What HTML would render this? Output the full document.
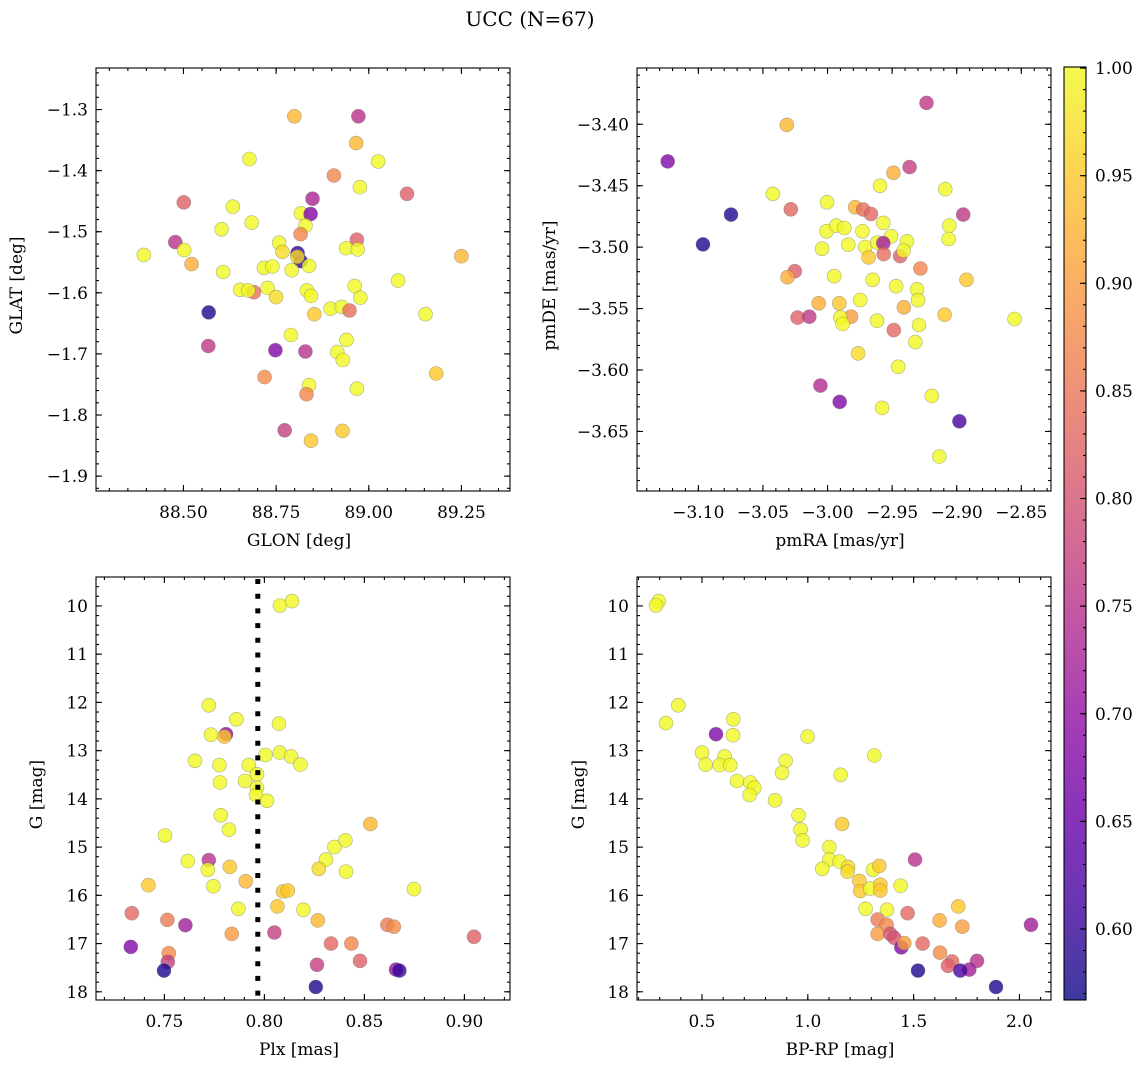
<!DOCTYPE html>
<html><head><meta charset="utf-8"><style>
html,body{margin:0;padding:0;background:#fff;}
svg text{font-family:"DejaVu Serif","Liberation Serif",serif;fill:#000;}
</style></head><body>
<svg id="fig" width="1148" height="1067" viewBox="0 0 1148 1067" xmlns="http://www.w3.org/2000/svg">
<text x="530" y="26" font-size="20" text-anchor="middle">UCC (N=67)</text>
</svg>
<script>
// Panel A: GLON vs GLAT
const glon=[88.799,88.972,88.966,88.678,89.025,88.906,88.976,89.103,88.501,88.848,88.633,88.817,88.843,88.684,88.829,88.603,88.816,88.478,88.758,88.968,88.939,88.970,88.502,88.767,88.808,88.816,88.807,88.393,89.250,88.522,88.717,88.740,88.792,88.839,88.607,89.079,88.962,88.653,88.690,88.675,88.727,88.833,88.844,88.750,88.977,88.897,88.927,88.948,88.853,88.568,89.153,88.790,88.940,88.567,88.748,88.829,88.915,88.930,89.182,88.719,88.839,88.832,88.968,88.773,88.844,88.929];
const glat=[-1.311,-1.311,-1.355,-1.381,-1.385,-1.408,-1.427,-1.438,-1.452,-1.446,-1.459,-1.470,-1.471,-1.485,-1.490,-1.496,-1.504,-1.517,-1.518,-1.513,-1.527,-1.529,-1.530,-1.533,-1.535,-1.548,-1.541,-1.538,-1.540,-1.553,-1.559,-1.557,-1.563,-1.556,-1.566,-1.580,-1.589,-1.595,-1.599,-1.596,-1.592,-1.596,-1.605,-1.607,-1.608,-1.626,-1.623,-1.629,-1.635,-1.632,-1.635,-1.669,-1.677,-1.687,-1.694,-1.696,-1.697,-1.710,-1.732,-1.738,-1.751,-1.766,-1.757,-1.825,-1.842,-1.826];
const probA=[0.93,0.75,0.93,1,1,0.87,1,0.82,0.82,0.73,1,1,0.68,1,1,1,0.87,0.75,1,0.82,1,1,1,0.97,0.6,0.6,0.97,1,0.93,0.92,1,1,1,1,1,1,1,1,0.84,1,1,1,1,0.97,1,1,1,0.84,0.95,0.58,1,1,1,0.76,0.68,0.75,1,1,0.95,0.88,1,0.87,1,0.77,0.95,0.95];
// Panel B: pmRA vs pmDE
const pmra=[-3.1237,-3.0315,-2.9234,-3.0747,-3.0964,-3.0424,-3.0284,-3.0003,-2.9786,-2.9724,-2.9664,-2.949,-2.9365,-2.9594,-2.9089,-2.895,-2.9057,-2.9063,-3.0008,-2.9932,-2.987,-2.9729,-2.9568,-2.9508,-3.0042,-2.9839,-2.9708,-2.9615,-2.9568,-2.9385,-2.9682,-2.9565,-2.9438,-2.9411,-2.9281,-3.0253,-3.031,-2.9948,-2.9651,-2.8924,-2.9469,-2.9307,-2.93,-2.9747,-3.0068,-2.9909,-2.9409,-2.9094,-2.8552,-3.0232,-3.0141,-2.9818,-2.9901,-2.9883,-2.9617,-2.9292,-2.9487,-2.932,-2.9763,-2.9453,-3.0055,-2.9906,-2.9578,-2.9193,-2.8979,-2.9135];
const pmde=[-3.4302,-3.4005,-3.3826,-3.4735,-3.4978,-3.4566,-3.4692,-3.4635,-3.4675,-3.4694,-3.473,-3.4395,-3.4349,-3.4501,-3.4528,-3.4735,-3.4825,-3.4934,-3.4871,-3.4825,-3.4844,-3.4871,-3.4803,-3.4912,-3.5013,-3.498,-3.4999,-3.4964,-3.4967,-3.4953,-3.5084,-3.5057,-3.5073,-3.5029,-3.5174,-3.5196,-3.5245,-3.5237,-3.5266,-3.5266,-3.5318,-3.5343,-3.5432,-3.543,-3.5457,-3.5457,-3.549,-3.555,-3.5585,-3.5574,-3.5566,-3.5566,-3.5571,-3.5626,-3.5599,-3.5634,-3.5675,-3.5773,-3.5865,-3.5974,-3.6127,-3.626,-3.6309,-3.6211,-3.6418,-3.6704];
const probB=[0.68,0.93,0.76,0.58,0.58,1,0.83,1,0.93,0.84,0.83,0.92,0.77,1,1,0.76,1,1,1,1,1,1,1,1,1,1,1,1,0.72,1,0.95,0.84,0.82,1,0.87,0.82,0.92,1,1,0.95,1,1,1,1,0.92,0.95,0.92,0.95,1,0.82,0.76,0.9,1,1,1,1,0.83,1,0.97,1,0.74,0.68,1,1,0.62,1];
// Panel C: Plx vs G
const plx=[0.8078,0.8138,0.7722,0.786,0.8073,0.7733,0.7808,0.78,0.8005,0.8077,0.8133,0.818,0.7653,0.7775,0.7922,0.7963,0.7903,0.7778,0.7963,0.7958,0.8013,0.7782,0.7823,0.7503,0.853,0.8405,0.835,0.8308,0.8272,0.8408,0.7617,0.7722,0.7717,0.7827,0.742,0.7745,0.7907,0.8093,0.8117,0.8748,0.787,0.8065,0.8195,0.7337,0.7515,0.7605,0.8267,0.7837,0.805,0.8615,0.8647,0.9048,0.7332,0.8333,0.8435,0.7522,0.7517,0.7498,0.8263,0.8478,0.8658,0.8675,0.8257];
const gmagC=[9.99,9.90,12.06,12.35,12.44,12.67,12.66,12.71,13.09,13.04,13.12,13.29,13.21,13.30,13.30,13.49,13.63,13.66,13.77,13.92,14.04,14.34,14.64,14.76,14.52,14.86,15.0,15.26,15.45,15.51,15.29,15.27,15.47,15.41,15.79,15.81,15.71,15.92,15.90,15.87,16.28,16.23,16.30,16.37,16.51,16.62,16.52,16.80,16.77,16.61,16.65,16.86,17.07,17.0,17.0,17.20,17.38,17.56,17.44,17.36,17.54,17.56,17.90];
const probC=[1,1,1,1,1,1,0.7,0.95,1,1,1,1,1,1,1,1,1,1,1,1,1,1,1,1,0.93,1,1,1,0.97,1,1,0.75,1,0.95,0.95,1,0.93,0.95,0.95,1,1,0.95,1,0.83,0.86,0.72,0.93,0.9,0.77,0.86,0.88,0.82,0.68,0.83,0.87,0.88,0.77,0.58,0.77,0.82,0.7,0.6,0.58];
// Panel D: BP-RP vs G
const bprp=[0.2953,0.2827,0.3882,0.3299,0.5661,0.648,0.6465,0.9992,1.3142,0.5,0.6071,0.5173,0.5835,0.6339,0.8953,0.878,1.1551,0.6654,0.7283,0.7472,0.7252,0.8449,0.9567,0.9661,0.9756,1.1614,1.1016,1.1016,1.0685,1.1504,1.1898,1.1882,1.3079,1.3378,1.2433,1.248,1.2953,1.3425,1.3425,1.4386,1.5063,1.2732,1.374,1.711,1.3299,1.4717,1.6228,1.7299,1.3724,1.3299,1.3898,1.4087,1.4417,1.4559,1.5425,1.6244,1.6811,1.6622,1.7992,1.763,1.7205,1.5205,1.889,2.0543];
const gmagD=[9.90,9.99,12.06,12.43,12.66,12.35,12.68,12.71,13.10,13.04,13.12,13.29,13.30,13.30,13.21,13.46,13.50,13.63,13.66,13.77,13.92,14.03,14.34,14.64,14.86,14.52,15.0,15.26,15.45,15.30,15.41,15.51,15.47,15.39,15.70,15.91,15.86,15.78,15.90,15.80,15.26,16.28,16.30,16.23,16.50,16.37,16.52,16.65,16.61,16.80,16.80,16.88,17.08,16.99,17.0,17.19,17.37,17.46,17.36,17.54,17.56,17.56,17.90,16.61];
const probD=[1,1,1,1,0.68,1,1,1,1,1,1,1,1,1,1,1,1,1,1,1,1,1,1,1,1,0.95,1,1,1,1,0.97,0.97,1,0.95,0.95,0.95,1,0.95,0.95,1,0.75,1,1,0.95,0.86,0.83,0.92,0.9,0.87,0.9,0.8,0.8,0.68,0.9,0.83,0.88,0.83,0.82,0.75,0.72,0.62,0.58,0.58,0.72];
const cbarTicks=[0.60,0.65,0.70,0.75,0.80,0.85,0.90,0.95,1.00];
const plxLine=[0.7967];

const NS="http://www.w3.org/2000/svg";
const svg=document.getElementById('fig');
function mk(tag,attrs,parent){const e=document.createElementNS(NS,tag);for(const k in attrs)e.setAttribute(k,attrs[k]);(parent||svg).appendChild(e);return e;}
const VMIN=0.567,VMAX=1.0005;
const plasma=[[13,8,135],[65,4,157],[106,0,168],[143,13,164],[177,42,144],[204,71,120],[225,100,98],[242,132,75],[252,166,54],[252,206,37],[240,249,33]];
function cmap(v){let t=(v-VMIN)/(VMAX-VMIN);t=Math.max(0,Math.min(1,t))*10;const i=Math.min(9,Math.floor(t)),f=t-i;const a=plasma[i],b=plasma[i+1];return 'rgb('+a.map((c,k)=>Math.round(c+(b[k]-c)*f)).join(',')+')';}
function fmt(v,d){const s=Math.abs(v).toFixed(d);return (v<-1e-9?'\u2212':'')+s;}
function ticks(lo,hi,step){const a=[],s=Math.ceil(Math.min(lo,hi)/step-1e-6);for(let k=s;k*step<=Math.max(lo,hi)+1e-9;k++)a.push(+(k*step).toFixed(6));return a;}

const panels=[
 {name:'glon-glat',x0:96,y0:68,w:414,h:423,xd:[88.264,89.381],yd:[-1.232,-1.9244],xs:[0.25,0.05],ys:[0.1,0.02],xf:2,yf:1,xl:'GLON [deg]',yl:'GLAT [deg]',X:glon,Y:glat,P:probA,ylx:16},
 {name:'pmra-pmde',x0:637,y0:68,w:414,h:423,xd:[-3.1475,-2.827],yd:[-3.3542,-3.6985],xs:[0.05,0.01],ys:[0.05,0.01],xf:2,yf:2,xl:'pmRA [mas/yr]',yl:'pmDE [mas/yr]',X:pmra,Y:pmde,P:probB,ylx:549},
 {name:'plx-g',x0:96,y0:577,w:414,h:423,xd:[0.7158,0.9228],yd:[9.4,18.17],xs:[0.05,0.01],ys:[1,0.2],xf:2,yf:0,xl:'Plx [mas]',yl:'G [mag]',X:plx,Y:gmagC,P:probC,ylx:36,vline:true},
 {name:'bprp-g',x0:637,y0:577,w:414,h:423,xd:[0.193,2.149],yd:[9.4,18.17],xs:[0.5,0.1],ys:[1,0.2],xf:1,yf:0,xl:'BP-RP [mag]',yl:'G [mag]',X:bprp,Y:gmagD,P:probD,ylx:578}
];
panels.forEach(p=>{
 const g=mk('g',{});
 
 
 const sx=v=>p.x0+(v-p.xd[0])/(p.xd[1]-p.xd[0])*p.w;
 const sy=v=>p.y0+(v-p.yd[0])/(p.yd[1]-p.yd[0])*p.h;
 const clip='clip-'+p.name;
 const cp=mk('clipPath',{id:clip},g);mk('rect',{x:p.x0,y:p.y0,width:p.w,height:p.h},cp);
 const pts=mk('g',{'clip-path':'url(#'+clip+')'},g);
 
 
 for(let i=0;i<p.X.length;i++){
  const c=mk('circle',{cx:sx(p.X[i]).toFixed(1),cy:sy(p.Y[i]).toFixed(1),r:7,fill:cmap(p.P[i]),'fill-opacity':0.8,stroke:'#666','stroke-opacity':0.5,'stroke-width':0.6},pts);
  
  
 }
 if(p.vline){
  const l=mk('line',{x1:sx(plxLine[0]),x2:sx(plxLine[0]),y1:p.y0+2,y2:p.y0+p.h,stroke:'#000','stroke-width':5,'stroke-dasharray':'5,9.7'},g);
  
  
 }
 const ax=mk('g',{stroke:'#000','stroke-width':1.1},g);
 
 
 [[p.xs[1],3],[p.xs[0],6]].forEach(([st,L])=>{ticks(p.xd[0],p.xd[1],st).forEach(v=>{const x=sx(v);if(x<p.x0+0.5||x>p.x0+p.w-0.5)return;mk('line',{x1:x,x2:x,y1:p.y0+p.h,y2:p.y0+p.h-L},ax);mk('line',{x1:x,x2:x,y1:p.y0,y2:p.y0+L},ax);});});
 [[p.ys[1],3],[p.ys[0],6]].forEach(([st,L])=>{ticks(p.yd[0],p.yd[1],st).forEach(v=>{const y=sy(v);if(y<p.y0+0.5||y>p.y0+p.h-0.5)return;mk('line',{y1:y,y2:y,x1:p.x0,x2:p.x0+L},ax);mk('line',{y1:y,y2:y,x1:p.x0+p.w,x2:p.x0+p.w-L},ax);});});
 mk('rect',{x:p.x0,y:p.y0,width:p.w,height:p.h,fill:'none'},ax);
 ticks(p.xd[0],p.xd[1],p.xs[0]).forEach(v=>{const x=sx(v);if(x<p.x0||x>p.x0+p.w)return;const t=mk('text',{x:x,y:p.y0+p.h+27,'font-size':17,'text-anchor':'middle'},g);t.textContent=fmt(v,p.xf);});
 ticks(p.yd[0],p.yd[1],p.ys[0]).forEach(v=>{const y=sy(v);if(y<p.y0||y>p.y0+p.h)return;const t=mk('text',{x:p.x0-8,y:y+6,'font-size':17,'text-anchor':'end'},g);t.textContent=fmt(v,p.yf);});
 const xt=mk('text',{x:p.x0+p.w/2-4,y:p.y0+p.h+55,'font-size':17,'text-anchor':'middle'},g);xt.textContent=p.xl;
 
 
 const cy=p.y0+p.h/2;
 const yt=mk('text',{x:p.ylx,y:cy,'font-size':17,'text-anchor':'middle',transform:'rotate(-90 '+(p.ylx+6)+' '+cy+')'},g);yt.textContent=p.yl;
 
 
});
// colorbar
const cb=mk('g',{});


const CX=1064,CW=22,CT=67,CB=1000;
const cys=v=>CT+(VMAX-v)/(VMAX-VMIN)*(CB-CT);
const defs=mk('defs',{},cb);const lg=mk('linearGradient',{id:'plasmaGrad',x1:0,y1:1,x2:0,y2:0},defs);
plasma.forEach((c,i)=>mk('stop',{offset:(i/10),'stop-color':'rgb('+c.join(',')+')'},lg));
mk('rect',{x:CX,y:CT,width:CW,height:CB-CT,fill:'url(#plasmaGrad)','fill-opacity':0.8},cb);
const cba=mk('g',{stroke:'#000','stroke-width':1.1},cb);
ticks(VMIN,VMAX,0.01).forEach(v=>{const y=cys(v);mk('line',{x1:CX+CW,x2:CX+CW-3,y1:y,y2:y},cba);});
cbarTicks.forEach(v=>{const y=cys(v);mk('line',{x1:CX+CW,x2:CX+CW-6,y1:y,y2:y},cba);const t=mk('text',{x:CX+CW+9,y:y+6,'font-size':17},cb);t.textContent=v.toFixed(2);});
mk('rect',{x:CX,y:CT,width:CW,height:CB-CT,fill:'none'},cba);
</script>
</body></html>
